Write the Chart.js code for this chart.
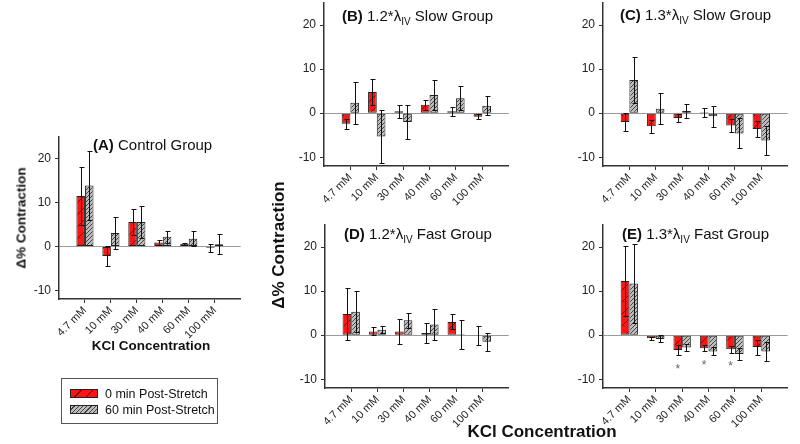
<!DOCTYPE html>
<html>
<head>
<meta charset="utf-8">
<script src="https://cdn.jsdelivr.net/npm/chart.js@4.4.0/dist/chart.umd.min.js"></script>
<style>
  body { margin: 0; width: 800px; height: 444px; position: relative; overflow: hidden; background: #fff;
         font-family: "Liberation Sans", Arial, sans-serif; color: #111; }
  canvas { position: absolute; }
  .title { position: absolute; font-size: 15px; line-height: 16px; white-space: nowrap; }
  .title sub { font-size: 10px; vertical-align: -4px; line-height: 0; }
  .ylab { position: absolute; font-weight: bold; white-space: nowrap; transform: translate(-50%, -50%) rotate(-90deg); }
  .xlab { position: absolute; font-weight: bold; white-space: nowrap; transform: translate(-50%, -50%); }
  #legend { position: absolute; left: 61px; top: 378px; width: 157px; height: 46px; border: 1px solid #555;
            box-sizing: border-box; font-size: 12.5px; }
  #legend .row { position: absolute; left: 8px; height: 10px; line-height: 10px; white-space: nowrap; }
  #legend .sw { display: inline-block; width: 28px; height: 9px; border: 1px solid #222; box-sizing: border-box;
                vertical-align: top; margin-right: 7px; }
  .sw.red { background: repeating-linear-gradient(135deg, #ff1414 0 7px, #7a0000 7px 8px); }
  .sw.gray { background: repeating-linear-gradient(135deg, #bdbdbd 0 2px, #444 2px 3px); }
</style>
</head>
<body>

<canvas id="pA"></canvas>
<canvas id="pB"></canvas>
<canvas id="pC"></canvas>
<canvas id="pD"></canvas>
<canvas id="pE"></canvas>

<div class="title" style="left:93px; top:137px;"><b>(A)</b> Control Group</div>
<div class="title" style="left:342px; top:8px;"><b>(B)</b> 1.2*λ<sub>IV</sub> Slow Group</div>
<div class="title" style="left:620px; top:7px;"><b>(C)</b> 1.3*λ<sub>IV</sub> Slow Group</div>
<div class="title" style="left:344px; top:226px;"><b>(D)</b> 1.2*λ<sub>IV</sub> Fast Group</div>
<div class="title" style="left:622px; top:226px;"><b>(E)</b> 1.3*λ<sub>IV</sub> Fast Group</div>

<div class="ylab" style="left:21px; top:218px; font-size:13.5px;">Δ% Contraction</div>
<div class="xlab" style="left:151px; top:345px; font-size:13.5px;">KCl Concentration</div>
<div class="ylab" style="left:279px; top:245px; font-size:17px;">Δ% Contraction</div>
<div class="xlab" style="left:542px; top:432px; font-size:17px;">KCl Concentration</div>

<div id="legend">
  <div class="row" style="top:10px;"><span class="sw red"></span>0 min Post-Stretch</div>
  <div class="row" style="top:26px;"><span class="sw gray"></span>60 min Post-Stretch</div>
</div>

<script>
// ===========================================================
// Data (mean and SD of % contraction change)
// ===========================================================
const categories = ["4.7 mM", "10 mM", "30 mM", "40 mM", "60 mM", "100 mM"];
const yTicks = [-10, 0, 10, 20];
const yMin = -12;
const yMax = 25;

// (A) Control Group
const ctrlPre    = [11.5, -2.2, 5.6, 0.9, 0.6, -0.3];
const ctrlPreSd  = [6.6, 2.2, 3.0, 0.5, 0.3, 0.9];
const ctrlPost   = [13.9, 3.05, 5.6, 2.2, 1.75, 0.5];
const ctrlPostSd = [7.9, 3.6, 3.7, 1.3, 1.7, 2.3];

// (B) 1.2*λIV Slow Group
const slow12Pre    = [-2.4, 4.8, 0.4, 1.9, 0.4, -0.8];
const slow12PreSd  = [1.1, 2.9, 1.5, 1.1, 1.0, 0.5];
const slow12Post   = [2.35, -5.3, -2.0, 4.1, 3.4, 1.7];
const slow12PostSd = [4.8, 6.1, 3.8, 3.5, 2.7, 2.2];

// (C) 1.3*λIV Slow Group
const slow13Pre    = [-2.0, -3.0, -1.1, 0.2, -2.8, -3.6];
const slow13PreSd  = [2.1, 1.5, 0.9, 1.0, 1.4, 1.9];
const slow13Post   = [7.5, 1.0, 0.5, -0.7, -4.6, -6.2];
const slow13PostSd = [5.2, 3.5, 1.5, 2.4, 3.4, 3.2];

// (D) 1.2*λIV Fast Group
const fast12Pre    = [4.8, 0.85, 0.85, 0.5, 3.0, -0.1];
const fast12PreSd  = [5.8, 0.9, 2.85, 2.3, 1.7, 2.1];
const fast12Post   = [5.3, 1.2, 3.4, 2.4, 0.2, -1.5];
const fast12PostSd = [4.7, 0.8, 1.7, 3.5, 3.3, 2.0];

// (E) 1.3*λIV Fast Group
const fast13Pre    = [12.3, -0.7, -3.4, -3.0, -3.2, -2.7];
const fast13PreSd  = [8.0, 0.3, 1.2, 0.7, 0.8, 1.7];
const fast13Post   = [11.7, -0.85, -2.8, -3.7, -4.3, -3.7];
const fast13PostSd = [8.9, 0.8, 0.85, 0.9, 1.4, 2.1];
const fast13Stars  = [null, null, -7.3, -6.4, -6.6, null];

// ===========================================================
// Panel placement (plot area in page pixels)
// ===========================================================
const Y_AXIS_W = 34;
const X_AXIS_H = 46;
const PAD_TOP = 14;
const PAD_RIGHT = 10;

const panels = [
  { id: "pA", left: 59,  right: 241, top: 137, bottom: 299, pre: ctrlPre,   preSd: ctrlPreSd,   post: ctrlPost,   postSd: ctrlPostSd },
  { id: "pB", left: 324, right: 509, top: 3,   bottom: 166, pre: slow12Pre, preSd: slow12PreSd, post: slow12Post, postSd: slow12PostSd },
  { id: "pC", left: 603, right: 788, top: 3,   bottom: 166, pre: slow13Pre, preSd: slow13PreSd, post: slow13Post, postSd: slow13PostSd },
  { id: "pD", left: 325, right: 509, top: 225, bottom: 388, pre: fast12Pre, preSd: fast12PreSd, post: fast12Post, postSd: fast12PostSd },
  { id: "pE", left: 603, right: 788, top: 225, bottom: 388, pre: fast13Pre, preSd: fast13PreSd, post: fast13Post, postSd: fast13PostSd, stars: fast13Stars }
];

// hatch fills for the bars
function makeHatch(bg, fg, size) {
  const c = document.createElement("canvas");
  c.width = size; c.height = size;
  const g = c.getContext("2d");
  g.fillStyle = bg;
  g.fillRect(0, 0, size, size);
  g.strokeStyle = fg;
  g.lineWidth = 1;
  g.beginPath();
  g.moveTo(0, size); g.lineTo(size, 0);
  g.moveTo(-2, 2); g.lineTo(2, -2);
  g.moveTo(size - 2, size + 2); g.lineTo(size + 2, size - 2);
  g.stroke();
  return g.createPattern(c, "repeat");
}
const redFill = makeHatch("#ff1414", "#8a0000", 12);
const grayFill = makeHatch("#bdbdbd", "#444", 4);

// blank slot at each end so the bars sit one step in from the axes
const pad = arr => [null, ...arr, null];

// error bars (mean ± SD) and significance marks
function errorBarPlugin(stars) {
  return {
    id: "errorBars",
    afterDatasetsDraw(chart) {
      const ctx = chart.ctx;
      const yScale = chart.scales.y;
      ctx.save();
      ctx.strokeStyle = "#111";
      ctx.lineWidth = 1;
      chart.data.datasets.forEach((ds, di) => {
        chart.getDatasetMeta(di).data.forEach((bar, i) => {
          const v = ds.data[i], sd = ds.sd[i];
          if (v == null || sd == null) return;
          const x = Math.round(bar.x) + 0.5;
          const yHi = Math.round(yScale.getPixelForValue(v + sd)) + 0.5;
          const yLo = Math.round(yScale.getPixelForValue(v - sd)) + 0.5;
          ctx.beginPath();
          ctx.moveTo(x, yHi); ctx.lineTo(x, yLo);
          ctx.moveTo(x - 2, yHi); ctx.lineTo(x + 3, yHi);
          ctx.moveTo(x - 2, yLo); ctx.lineTo(x + 3, yLo);
          ctx.stroke();
        });
      });
      if (stars) {
        const bars = chart.getDatasetMeta(0).data;
        ctx.fillStyle = "#666";
        ctx.font = "12px 'Liberation Sans', Arial, sans-serif";
        ctx.textAlign = "center";
        ctx.textBaseline = "middle";
        pad(stars).forEach((s, i) => {
          if (s == null) return;
          ctx.fillText("*", bars[i].x, yScale.getPixelForValue(s) + 2);
        });
      }
      ctx.restore();
    }
  };
}

function drawPanel(p) {
  const cv = document.getElementById(p.id);
  const w = (p.right - p.left) + Y_AXIS_W + PAD_RIGHT;
  const h = (p.bottom - p.top) + PAD_TOP + X_AXIS_H;
  cv.width = w; cv.height = h;
  cv.style.left = (p.left - Y_AXIS_W) + "px";
  cv.style.top = (p.top - PAD_TOP) + "px";
  const lastIdx = categories.length + 1;

  new Chart(cv, {
    type: "bar",
    data: {
      labels: pad(categories).map(c => c || ""),
      datasets: [
        { data: pad(p.pre), sd: pad(p.preSd), backgroundColor: redFill, borderColor: "#222", borderWidth: 1,
          borderSkipped: false, categoryPercentage: 0.66, barPercentage: 1 },
        { data: pad(p.post), sd: pad(p.postSd), backgroundColor: grayFill, borderColor: "#222", borderWidth: 1,
          borderSkipped: false, categoryPercentage: 0.66, barPercentage: 1 }
      ]
    },
    options: {
      responsive: false,
      animation: false,
      devicePixelRatio: 1,
      layout: { padding: { top: PAD_TOP, right: PAD_RIGHT, left: 0, bottom: 0 } },
      plugins: { legend: { display: false }, tooltip: { enabled: false } },
      scales: {
        x: {
          offset: false,
          grid: {
            offset: false,
            drawOnChartArea: false,
            tickLength: 4,
            color: c => (c.index === 0 || c.index === lastIdx) ? "transparent" : "#333"
          },
          border: { color: "#333", width: 1.5 },
          ticks: { autoSkip: false, minRotation: 45, maxRotation: 45, padding: 1, color: "#222",
                   font: { family: "'Liberation Sans', Arial, sans-serif", size: 11 } },
          afterFit: s => { s.height = X_AXIS_H; }
        },
        y: {
          min: yMin,
          max: yMax,
          afterBuildTicks: s => { s.ticks = yTicks.map(v => ({ value: v })); },
          grid: {
            color: c => (c.tick && c.tick.value === 0) ? "#9a9a9a" : "transparent",
            tickColor: "#333",
            tickLength: 4
          },
          border: { color: "#333", width: 1.5 },
          ticks: { padding: 4, color: "#222", font: { family: "'Liberation Sans', Arial, sans-serif", size: 12 } },
          afterFit: s => { s.width = Y_AXIS_W; }
        }
      }
    },
    plugins: [errorBarPlugin(p.stars)]
  });
}

panels.forEach(drawPanel);
</script>
</body>
</html>
